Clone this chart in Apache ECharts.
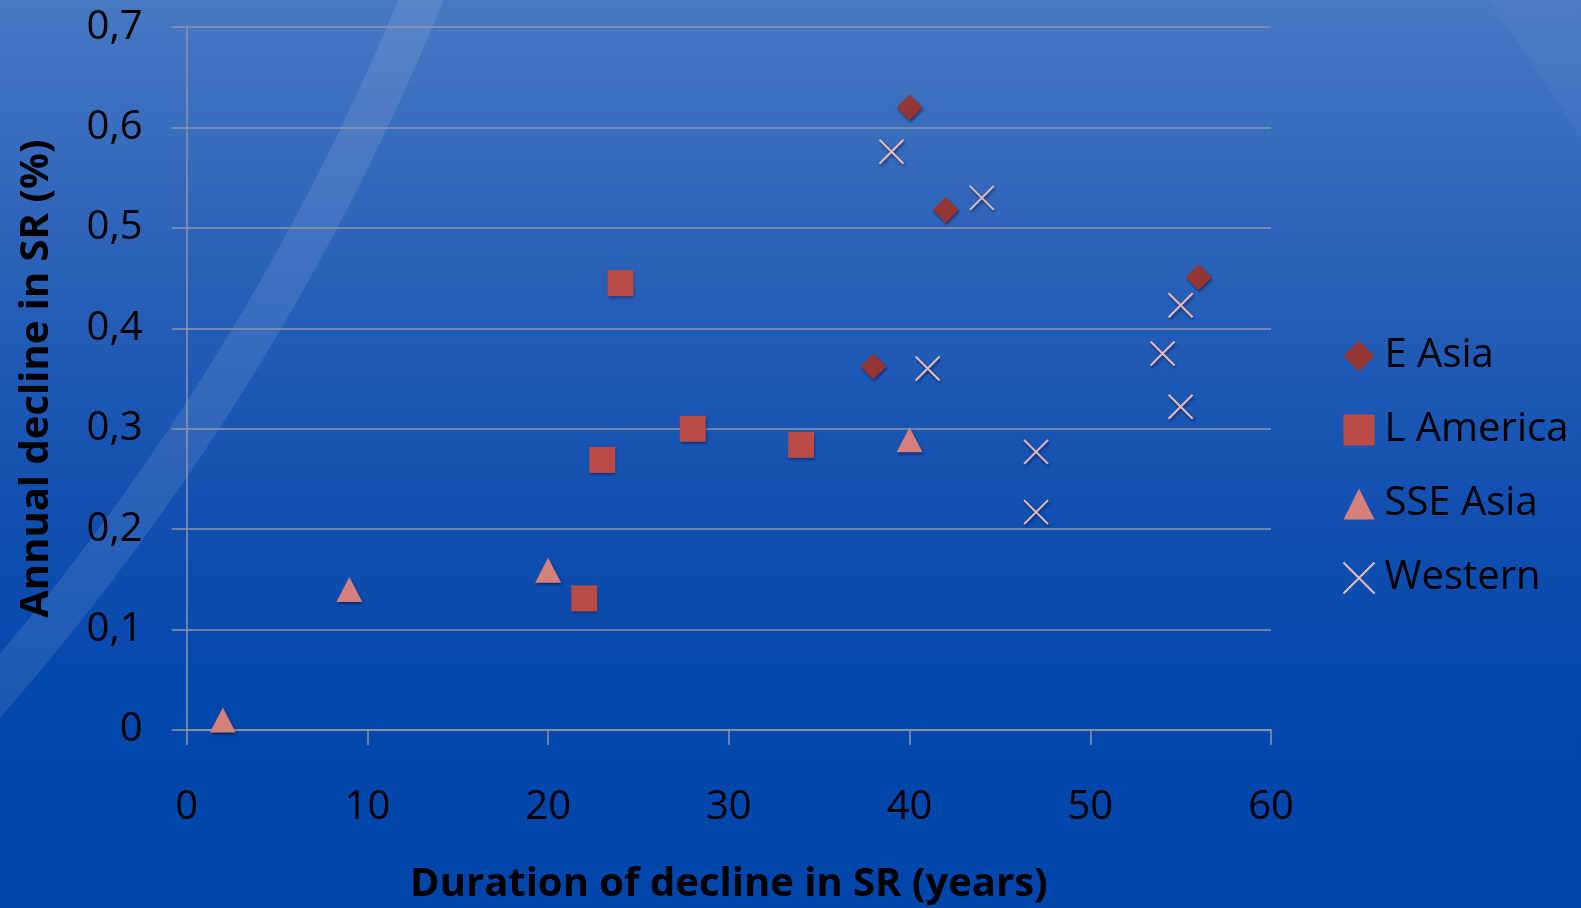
<!DOCTYPE html>
<html>
<head>
<meta charset="utf-8">
<script src="https://cdn.jsdelivr.net/npm/echarts@6/dist/echarts.min.js"></script>
<style>
html,body{margin:0;padding:0;width:1581px;height:908px;overflow:hidden;background:#0046AA;}
#chart{width:1581px;height:908px;}
</style>
</head>
<body>
<div id="chart"></div>
<script>
// ---- data (duration in years, annual decline in %) ----
const seriesNames = ['E Asia', 'L America', 'SSE Asia', 'Western'];
const eAsia = [[40, 0.62], [42, 0.518], [38, 0.362], [56, 0.451]];
const lAmerica = [[24, 0.445], [23, 0.269], [28, 0.30], [34, 0.284], [22, 0.131]];
const sseAsia = [[2, 0.01], [9, 0.14], [20, 0.159], [40, 0.289]];
const western = [[39, 0.576], [44, 0.53], [41, 0.36], [47, 0.277], [47, 0.217], [55, 0.423], [54, 0.375], [55, 0.322]];
const xTicks = [0, 10, 20, 30, 40, 50, 60];
const yTicks = [0, 0.1, 0.2, 0.3, 0.4, 0.5, 0.6, 0.7];
const xTitle = 'Duration of decline in SR (years)';
const yTitle = 'Annual decline in SR (%)';

const chart = echarts.init(document.getElementById('chart'), null, {renderer: 'canvas'});
const FONT = 'Open Sans';
const gridColor = '#8E97A8';
const shadow = {opacity: 1, shadowBlur: 3, shadowOffsetX: 1, shadowOffsetY: 2, shadowColor: 'rgba(0,10,50,0.55)'};

function fmtY(v) {
  return v === 0 ? '0' : v.toFixed(1).replace('.', ',');
}

chart.setOption({
  animation: false,
  graphic: [
    {
      type: 'rect', z: -100, silent: true,
      shape: {x: 0, y: 0, width: 1581, height: 908},
      style: {
        fill: new echarts.graphic.LinearGradient(0, 0, 0, 1, [
          {offset: 0, color: '#4778C3'},
          {offset: 0.25, color: '#2E64BA'},
          {offset: 0.55, color: '#1250B1'},
          {offset: 0.78, color: '#0347AB'},
          {offset: 1, color: '#0046AA'}
        ])
      }
    },
    {
      type: 'arc', z: -90, silent: true,
      shape: {cx: -1914, cy: -961, r: 2525, startAngle: 0.3, endAngle: 0.8},
      style: {stroke: 'rgba(255,255,255,0.1)', lineWidth: 42, fill: null}
    },
    {
      type: 'polygon', z: -90, silent: true,
      shape: {points: [[1487, 0], [1515, 38], [1545, 82], [1581, 140], [1581, 0]]},
      style: {fill: 'rgba(255,255,255,0.04)'}
    }
  ],
  grid: {left: 186.7, right: 310, top: 27.2, bottom: 178, containLabel: false, outerBoundsMode: 'none'},
  legend: {
    orient: 'vertical',
    left: 1337.5, top: 331,
    itemWidth: 31, itemHeight: 31, itemGap: 34,
    data: seriesNames,
    textStyle: {fontFamily: FONT, fontSize: 40, color: '#000', lineHeight: 40, padding: [0, 0, 0, 5]}
  },
  xAxis: {
    type: 'value', min: 0, max: 60, interval: 10,
    name: xTitle, nameLocation: 'middle', nameGap: 135,
    nameTextStyle: {fontFamily: FONT, fontWeight: 'bold', fontSize: 40, color: '#000'},
    axisLine: {show: true, onZero: false, lineStyle: {color: gridColor, width: 1.5}},
    axisTick: {show: true, length: 15, lineStyle: {color: gridColor, width: 1.5}},
    axisLabel: {
      fontFamily: FONT, fontSize: 40, color: '#000', margin: 58,
      customValues: xTicks,
      formatter: v => String(v)
    },
    splitLine: {show: false}
  },
  yAxis: {
    type: 'value', min: 0, max: 0.7, interval: 0.1,
    name: yTitle, nameLocation: 'middle', nameGap: 130, nameRotate: 90,
    nameTextStyle: {fontFamily: FONT, fontWeight: 'bold', fontSize: 40, color: '#000'},
    axisLine: {show: true, onZero: false, lineStyle: {color: gridColor, width: 1.5}},
    axisTick: {show: true, length: 15, lineStyle: {color: gridColor, width: 1.5}},
    axisLabel: {
      fontFamily: FONT, fontSize: 40, color: '#000', margin: 44,
      customValues: yTicks,
      formatter: v => fmtY(v)
    },
    splitLine: {show: true, lineStyle: {color: gridColor, width: 1.5}}
  },
  series: [
    {
      name: seriesNames[0], type: 'scatter', data: eAsia,
      symbol: 'diamond', symbolSize: 26,
      itemStyle: Object.assign({color: '#943634'}, shadow)
    },
    {
      name: seriesNames[1], type: 'scatter', data: lAmerica,
      symbol: 'rect', symbolSize: 26,
      itemStyle: Object.assign({color: '#BA4B47'}, shadow)
    },
    {
      name: seriesNames[2], type: 'scatter', data: sseAsia,
      symbol: 'triangle', symbolSize: [26, 25],
      itemStyle: Object.assign({color: '#D4817E'}, shadow)
    },
    {
      name: seriesNames[3], type: 'scatter', data: western,
      symbol: 'path://M0,0L10,10M10,0L0,10', symbolSize: 24,
      itemStyle: Object.assign({color: 'rgba(0,0,0,0)', borderColor: '#E8BCBA', borderWidth: 2}, shadow)
    }
  ]
});
</script>
</body>
</html>
